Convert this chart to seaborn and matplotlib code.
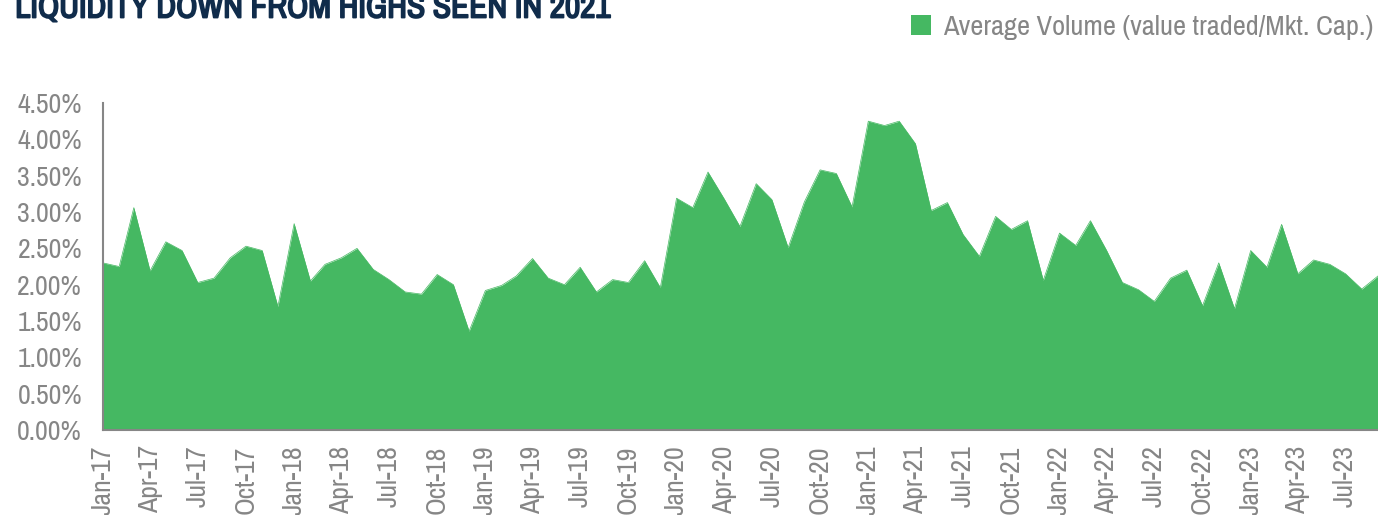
"""
Average volume as share of market cap, monthly area chart
"""
import matplotlib
matplotlib.use("Agg")
import matplotlib.pyplot as plt
import matplotlib.dates as mdates
import matplotlib.patheffects as pe
from matplotlib import font_manager as fm
from matplotlib.ticker import FuncFormatter, MultipleLocator
import seaborn as sns
import pandas as pd

title = "LIQUIDITY DOWN FROM HIGHS SEEN IN 2021"
series_name = "Average Volume (value traded/Mkt. Cap.)"

start_month = "2017-01-01"
n_months = 81

# monthly values in %, Jan-17 .. Sep-23
vol_2017 = [2.30, 2.25, 3.06, 2.19, 2.59, 2.47, 2.03, 2.09, 2.37, 2.53, 2.47, 1.70]
vol_2018 = [2.84, 2.05, 2.28, 2.37, 2.50, 2.21, 2.07, 1.90, 1.87, 2.14, 2.00, 1.36]
vol_2019 = [1.92, 1.99, 2.12, 2.36, 2.09, 2.00, 2.24, 1.90, 2.07, 2.03, 2.33, 1.96]
vol_2020 = [3.19, 3.06, 3.55, 3.18, 2.80, 3.39, 3.17, 2.51, 3.14, 3.58, 3.53, 3.07]
vol_2021 = [4.25, 4.19, 4.25, 3.94, 3.02, 3.13, 2.69, 2.39, 2.94, 2.76, 2.88, 2.06]
vol_2022 = [2.71, 2.54, 2.88, 2.47, 2.03, 1.93, 1.77, 2.09, 2.20, 1.71, 2.30, 1.67]
vol_2023 = [2.47, 2.24, 2.83, 2.15, 2.34, 2.28, 2.15, 1.94, 2.12]

values = vol_2017 + vol_2018 + vol_2019 + vol_2020 + vol_2021 + vol_2022 + vol_2023
dates = pd.date_range(start_month, periods=n_months, freq="MS")
df = pd.DataFrame({"month": dates, "volume": values})

GREEN = "#45b862"
GREY = "#868686"
NAVY = "#102c4b"

sns.set_style("white")

# a narrow face suits the original look; use one if the system has it
narrow = sorted({f.name for f in fm.fontManager.ttflist
                 if str(f.stretch).lower() in ("condensed", "semi-condensed", "extra-condensed")
                 or "narrow" in f.name.lower() or "condensed" in f.name.lower()})
plt.rcParams["font.family"] = (narrow[:1] if narrow else []) + ["DejaVu Sans"]
plt.rcParams["font.stretch"] = "condensed"

fig = plt.figure(figsize=(13.78, 5.15), dpi=100)
ax = fig.add_axes([0.0747, 0.165, 0.9253, 0.635])

sns.lineplot(data=df, x="month", y="volume", color=GREEN, linewidth=0.5, ax=ax)
ax.fill_between(df["month"], df["volume"], 0, color=GREEN, linewidth=0, label=series_name)

ax.set_xlim(df["month"].iloc[0], df["month"].iloc[-1])
ax.set_ylim(0, 4.5)
ax.yaxis.set_major_locator(MultipleLocator(0.5))
ax.yaxis.set_major_formatter(FuncFormatter(lambda v, p: f"{v:.2f}%"))
ax.xaxis.set_major_locator(mdates.MonthLocator(bymonth=[1, 4, 7, 10]))
ax.xaxis.set_major_formatter(mdates.DateFormatter("%b-%y"))
ax.set_xlabel("")
ax.set_ylabel("")

for side in ["top", "right"]:
    ax.spines[side].set_visible(False)
for side in ["left", "bottom"]:
    ax.spines[side].set_color(GREY)
    ax.spines[side].set_linewidth(1.5)

ax.tick_params(axis="both", colors=GREY, labelcolor=GREY, labelsize=20,
               length=7, width=1.5, direction="out")
ax.tick_params(axis="x", labelrotation=90, pad=4)
ax.tick_params(axis="y", pad=8)

# narrow face has no bold cut, so thicken the strokes a little instead
fig.text(0.011, 0.966, title, color=NAVY, fontsize=24, fontweight="bold",
         ha="left", va="baseline",
         path_effects=[pe.withStroke(linewidth=1.3, foreground=NAVY)])

fig.legend(loc="upper right", bbox_to_anchor=(1.015, 1.02), frameon=False,
           fontsize=20.5, labelcolor=GREY, handlelength=0.7, handleheight=0.7,
           handletextpad=0.4)

fig.savefig("out.png", dpi=100)
